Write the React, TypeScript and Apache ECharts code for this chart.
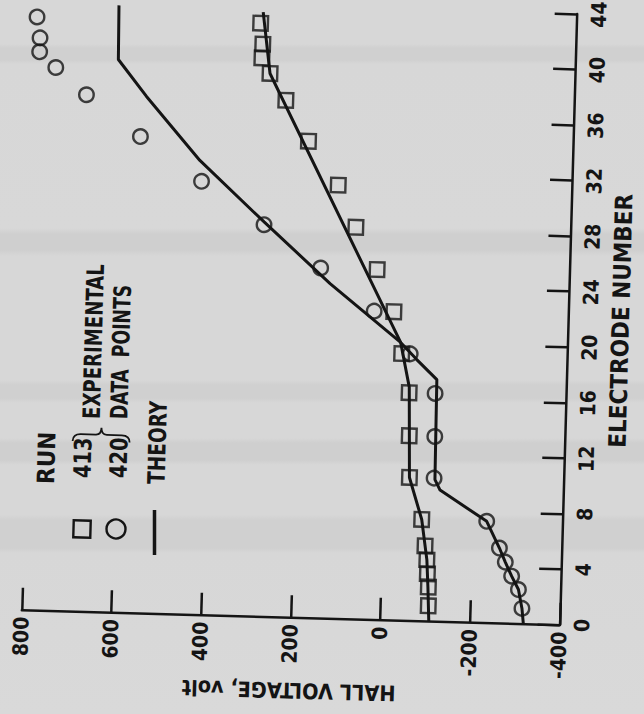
import React, { useEffect, useRef } from "react";
import * as echarts from "echarts";

// Electrode numbers at which both runs were measured
const electrodes = [1.1, 2.45, 3.4, 4.4, 5.4, 7.3, 10.3, 13.3, 16.4, 19.2, 22.2, 25.2, 28.2, 31.2, 34.3, 37.2, 39.1, 40.2, 41.2, 42.7];
// Run 413 (squares), Hall voltage, volt
const run413Volts = [-106, -105, -102, -100, -95, -86, -56, -53, -50, -31, -11, 29, 79, 121, 190, 243, 280, 299, 298, 304];
// Run 420 (circles), Hall voltage, volt
const run420Volts = [-315, -306, -290, -275, -261, -231, -111, -110, -108, -50, 33, 155, 284, 426, 565, 688, 758, 795, 795, 803];

// Theory curves
const theory413Electrodes = [0, 2.45, 4.4, 7.3, 10.3, 16.8, 20, 39.1, 43.5];
const theory413Volts = [-108, -104, -100, -86, -56, -50, -28, 280, 299];
const theory420Electrodes = [0, 1.1, 2.45, 3.4, 4.4, 5.4, 7.3, 9.45, 10.2, 17.4, 18.8, 20, 24.1, 28.4, 32.7, 37.2, 39.8, 43.7];
const theory420Volts = [-319, -315, -306, -290, -275, -261, -231, -125, -113, -111, -65, -28, 133, 284, 431, 554, 619, 621];

const voltageRange = [-400, 800];
const voltageStep = 200;
const electrodeRange = [0, 44];
const electrodeStep = 4;

const xTitle = "HALL VOLTAGE, volt";
const yTitle = "ELECTRODE NUMBER";
const legendRun = "RUN";
const legendRuns = ["413", "420"];
const legendLabels = ["EXPERIMENTAL", "DATA  POINTS"];
const legendTheory = "THEORY";

const FONT = "'Liberation Sans Narrow', 'DejaVu Sans Condensed', 'Liberation Sans', sans-serif";
const INK = "#141414";
const TILT = 1.6; // scan skew, degrees clockwise
const CX = 322;
const CY = 357;
const PAD = 20; // chart canvas extends beyond the page so edge labels are not cut

function unrot(x: number, y: number): [number, number] {
  const a = (TILT * Math.PI) / 180;
  const s = Math.sin(a);
  const c = Math.cos(a);
  const dx = x - CX;
  const dy = y - CY;
  return [CX + dx * c + dy * s + PAD, CY - dx * s + dy * c + PAD];
}

const bracePath = "M0,14 C0,9 3,7 8,7 L23,7 C27,7 28.5,4 28.5,0 C28.5,4 30,7 34,7 L49,7 C54,7 57,9 57,14";
echarts.graphic.registerShape("brace", echarts.graphic.extendPath(bracePath, {}) as any);

function rotText(text: string, x: number, y: number, squeeze: number) {
  const [ux, uy] = unrot(x, y);
  return {
    type: "text",
    x: ux,
    y: uy,
    rotation: Math.PI / 2,
    scaleX: squeeze,
    scaleY: 1,
    style: {
      text,
      fill: INK,
      font: `bold 24px ${FONT}`,
      align: "left",
      verticalAlign: "middle",
    },
  };
}

export default function App() {
  const ref = useRef<HTMLDivElement>(null);

  useEffect(() => {
    if (!ref.current) return;
    const chart = echarts.init(ref.current, null, { renderer: "svg" });

    const pair = (vs: number[], es: number[]) => es.map((e, i) => [vs[i], e]);

    const sq = unrot(82, 529);
    const ci = unrot(116, 529);
    const l1 = unrot(154.5, 510);
    const l2 = unrot(154.5, 555);
    const br = unrot(73, 427);

    const tickFont = { color: INK, fontFamily: FONT, fontWeight: "bold", fontSize: 21 };

    const option: any = {
      animation: false,
      backgroundColor: "transparent",
      grid: {
        left: 29 + PAD,
        right: 77 + PAD,
        top: 7 + PAD,
        bottom: 96 + PAD,
        containLabel: false,
        outerBoundsMode: "none",
      },
      xAxis: {
        type: "value",
        min: voltageRange[0],
        max: voltageRange[1],
        interval: voltageStep,
        inverse: true,
        position: "bottom",
        name: xTitle,
        nameLocation: "middle",
        nameRotate: 180,
        nameGap: 58,
        nameTextStyle: { color: INK, fontFamily: FONT, fontWeight: "bold", fontSize: 21.5 },
        axisLine: { show: true, onZero: false, lineStyle: { color: INK, width: 2.5 } },
        axisTick: { show: true, inside: true, length: 22, lineStyle: { color: INK, width: 2.5 } },
        axisLabel: { rotate: 90, margin: 7, ...tickFont },
        splitLine: { show: false },
      },
      yAxis: {
        type: "value",
        min: electrodeRange[0],
        max: electrodeRange[1],
        interval: electrodeStep,
        position: "right",
        name: yTitle,
        nameLocation: "middle",
        nameRotate: 90,
        nameGap: 25,
        nameTextStyle: { color: INK, fontFamily: FONT, fontWeight: "bold", fontSize: 24 },
        axisLine: { show: true, onZero: false, lineStyle: { color: INK, width: 2.5 } },
        axisTick: { show: true, inside: true, length: 22, lineStyle: { color: INK, width: 2.5 } },
        axisLabel: { rotate: 90, margin: 12, ...tickFont },
        splitLine: { show: false },
      },
      series: [
        {
          type: "line",
          data: pair(theory413Volts, theory413Electrodes),
          showSymbol: false,
          clip: false,
          lineStyle: { color: INK, width: 3 },
          z: 2,
        },
        {
          type: "line",
          data: pair(theory420Volts, theory420Electrodes),
          showSymbol: false,
          clip: false,
          lineStyle: { color: INK, width: 3 },
          z: 2,
        },
        {
          type: "scatter",
          data: pair(run413Volts, electrodes),
          symbol: "rect",
          symbolSize: 14.5,
          clip: false,
          itemStyle: { color: "rgba(0,0,0,0)", borderColor: INK, borderWidth: 2.4 },
          z: 3,
        },
        {
          type: "scatter",
          data: pair(run420Volts, electrodes),
          symbol: "circle",
          symbolSize: 14.5,
          clip: false,
          itemStyle: { color: "rgba(0,0,0,0)", borderColor: INK, borderWidth: 2.4 },
          z: 3,
        },
      ],
      graphic: [
        rotText(legendRun, 46, 484, 1.0),
        rotText(legendRuns[0], 82, 478, 0.9),
        rotText(legendRuns[1], 118, 478, 0.9),
        rotText(legendLabels[0], 91, 419, 0.84),
        rotText(legendLabels[1], 119, 419, 0.8),
        rotText(legendTheory, 156, 484, 0.86),
        {
          type: "rect",
          x: sq[0],
          y: sq[1],
          shape: { x: -8.5, y: -8.5, width: 17, height: 17 },
          style: { fill: "none", stroke: INK, lineWidth: 2.4 },
        },
        {
          type: "circle",
          shape: { cx: ci[0], cy: ci[1], r: 9.5 },
          style: { fill: "none", stroke: INK, lineWidth: 2.4 },
        },
        {
          type: "line",
          shape: { x1: l1[0], y1: l1[1], x2: l2[0], y2: l2[1] },
          style: { stroke: INK, lineWidth: 3.5 },
        },
        {
          type: "brace",
          x: br[0],
          y: br[1],
          scaleX: 1,
          scaleY: 1,
          style: { fill: "none", stroke: INK, lineWidth: 1.8 },
        },
      ],
    };

    chart.setOption(option);
    return () => chart.dispose();
  }, []);

  const bg =
    "linear-gradient(180deg, #d7d7d7 0px, #d7d7d7 44px, #d0d0d0 48px, #d0d0d0 60px, #d7d7d7 64px, #d8d8d8 228px, #cfcfcf 234px, #cfcfcf 250px, #d7d7d7 256px, #d7d7d7 380px, #d0d0d0 385px, #d0d0d0 398px, #d7d7d7 403px, #d7d7d7 438px, #cfcfcf 443px, #cfcfcf 460px, #d7d7d7 465px, #d7d7d7 515px, #d0d0d0 520px, #d0d0d0 548px, #d7d7d7 553px, #d9d9d9 714px)";

  return (
    <div
      style={{
        position: "fixed",
        left: 0,
        top: 0,
        width: 644,
        height: 714,
        overflow: "hidden",
        background: bg,
      }}
    >
      <div
        ref={ref}
        style={{
          position: "absolute",
          left: -PAD,
          top: -PAD,
          width: 644 + 2 * PAD,
          height: 714 + 2 * PAD,
          transform: `rotate(${TILT}deg)`,
          transformOrigin: `${CX + PAD}px ${CY + PAD}px`,
        }}
      />
    </div>
  );
}
